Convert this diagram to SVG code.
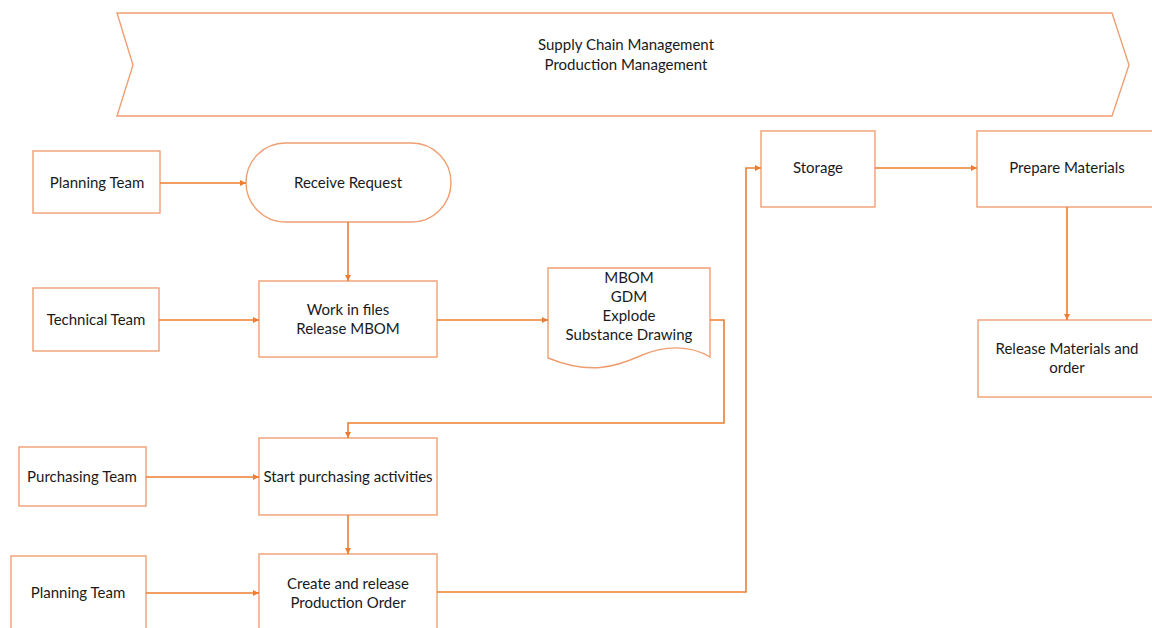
<svg xmlns="http://www.w3.org/2000/svg" width="1152" height="628" viewBox="0 0 1152 628">
<style>
.box{fill:#fff;stroke:#EF9E72;stroke-width:1.4}
.con{fill:none;stroke:#ED7D31;stroke-width:1.6}
text{font-family:Lato,"Open Sans","Liberation Sans",sans-serif;font-size:15px;fill:#1a1a1a;text-anchor:middle}
</style>
<defs>
<marker id="ah" viewBox="0 0 10 10" refX="10" refY="5" markerWidth="6" markerHeight="6" orient="auto" markerUnits="userSpaceOnUse">
<path d="M0,0 L10,5 L0,10 z" fill="#ED7D31"/>
</marker>
</defs>
<rect width="1152" height="628" fill="#fff"/>
<g id="banner">
<path class="box" d="M117,13 L1112,13 L1129,65 L1112,116 L117,116 L133,65 Z"/>
<text x="626" y="50">Supply Chain Management</text>
<text x="626" y="70">Production Management</text>
</g>
<g id="planning1">
<rect class="box" x="33" y="151" width="127" height="62"/>
<text x="97" y="188">Planning Team</text>
</g>
<g id="receive">
<rect class="box" x="246" y="143" width="205" height="79" rx="39.5" ry="39.5"/>
<text x="348" y="188">Receive Request</text>
</g>
<g id="technical">
<rect class="box" x="33" y="288" width="126" height="63"/>
<text x="96" y="325">Technical Team</text>
</g>
<g id="workfiles">
<rect class="box" x="259" y="281" width="178" height="76"/>
<text x="348" y="315">Work in files</text>
<text x="348" y="334">Release MBOM</text>
</g>
<g id="document">
<path class="box" d="M548,268 L710,268 L710,357 C690,345 665,345 640,356 C615,367 590,375 548,358 Z"/>
<text x="629" y="283">MBOM</text>
<text x="629" y="302">GDM</text>
<text x="629" y="321">Explode</text>
<text x="629" y="340">Substance Drawing</text>
</g>
<g id="purchasingteam">
<rect class="box" x="19" y="447" width="127" height="59"/>
<text x="82" y="482">Purchasing Team</text>
</g>
<g id="startpurchasing">
<rect class="box" x="259" y="438" width="178" height="77"/>
<text x="348" y="482">Start purchasing activities</text>
</g>
<g id="planning2">
<rect class="box" x="11" y="556" width="135" height="80"/>
<text x="78" y="598">Planning Team</text>
</g>
<g id="createorder">
<rect class="box" x="259" y="554" width="178" height="82"/>
<text x="348" y="589">Create and release</text>
<text x="348" y="608">Production Order</text>
</g>
<g id="storage">
<rect class="box" x="761" y="131" width="114" height="76"/>
<text x="818" y="173">Storage</text>
</g>
<g id="prepare">
<rect class="box" x="977" y="131" width="180" height="76"/>
<text x="1067" y="173">Prepare Materials</text>
</g>
<g id="release">
<rect class="box" x="978" y="320" width="180" height="77"/>
<text x="1067" y="354">Release Materials and</text>
<text x="1067" y="373">order</text>
</g>
<g id="connectors">
<path class="con" d="M160,183 L246,183" marker-end="url(#ah)"/>
<path class="con" d="M348,222 L348,281" marker-end="url(#ah)"/>
<path class="con" d="M159,320 L259,320" marker-end="url(#ah)"/>
<path class="con" d="M437,320 L548,320" marker-end="url(#ah)"/>
<path class="con" d="M710,320 L724,320 L724,423 L348,423 L348,438" marker-end="url(#ah)"/>
<path class="con" d="M146,477 L259,477" marker-end="url(#ah)"/>
<path class="con" d="M348,515 L348,554" marker-end="url(#ah)"/>
<path class="con" d="M146,593 L259,593" marker-end="url(#ah)"/>
<path class="con" d="M437,592 L746,592 L746,168 L761,168" marker-end="url(#ah)"/>
<path class="con" d="M875,168 L977,168" marker-end="url(#ah)"/>
<path class="con" d="M1067,207 L1067,320" marker-end="url(#ah)"/>
</g>
</svg>
